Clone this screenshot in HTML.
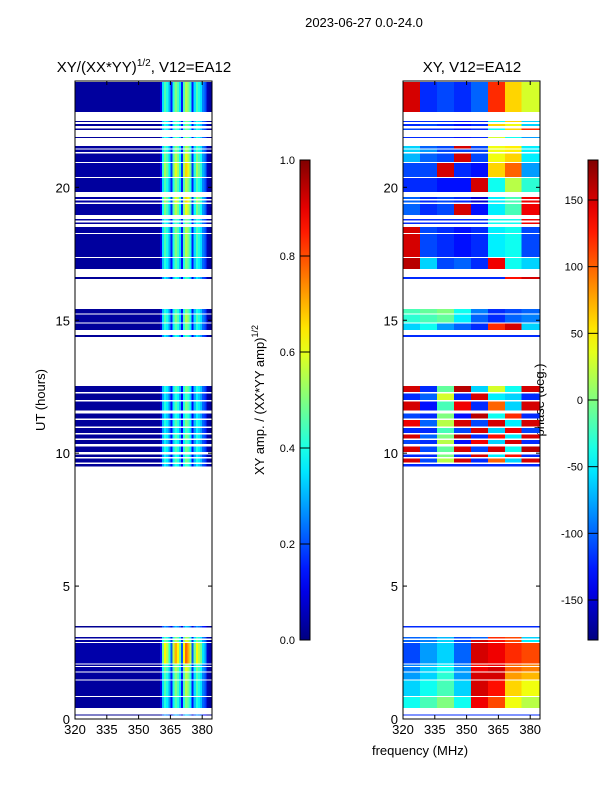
<!DOCTYPE html>
<html><head><meta charset="utf-8"><style>
body{margin:0;background:#fff;width:600px;height:800px;overflow:hidden;font-family:"Liberation Sans",sans-serif}
svg text{font-family:"Liberation Sans",sans-serif}
</style></head><body>
<svg id="fig" width="600" height="800" xmlns="http://www.w3.org/2000/svg">
<text x="364" y="27" font-size="13" text-anchor="middle">2023-06-27 0.0-24.0</text>
<text x="144" y="72" font-size="15" text-anchor="middle">XY/(XX*YY)<tspan font-size="10" dy="-6">1/2</tspan><tspan dy="6">, V12=EA12</tspan></text>
<text x="472" y="72" font-size="15" text-anchor="middle">XY, V12=EA12</text>
<text x="420" y="755" font-size="13" text-anchor="middle">frequency (MHz)</text>
<text transform="translate(45,400) rotate(-90)" font-size="13" text-anchor="middle">UT (hours)</text>
<text transform="translate(264,400) rotate(-90)" font-size="13" text-anchor="middle">XY amp. / (XX*YY amp)<tspan font-size="9" dy="-6">1/2</tspan></text>
<text transform="translate(544,400) rotate(-90)" font-size="13" text-anchor="middle">phase (deg.)</text>
<g id="p1"></g>
<g id="p2"></g>
<g id="ax"></g>
</svg>
<script>
// frequency bins (MHz, 1-MHz wide)
const ampProfile = [0.03,0.03,0.03,0.03,0.03,0.03,0.03,0.03,0.03,0.03,0.03,0.03,0.03,0.03,0.03,0.03,0.03,0.03,0.03,0.03,
0.03,0.03,0.03,0.03,0.03,0.03,0.03,0.03,0.03,0.03,0.03,0.03,0.03,0.03,0.03,0.03,0.03,0.03,0.03,0.03,
0.1,0.35,0.45,0.4,0.3,0.15,0.4,0.5,0.45,0.35,0.15,0.45,0.55,0.5,0.4,0.15,0.35,0.45,0.4,0.35,0.25,0.2,0.05,0.03,0.03];
const ampFreqStart = 320;
// time segments (UT hours)
const segStart = [22.84,22.45,22.30,22.15,21.86,21.46,21.32,20.96,20.39,19.82,19.56,19.43,18.95,18.75,18.62,18.29,17.38,16.93,16.55,15.25,14.91,14.63,14.37,
12.30,12.00,11.60,11.30,11.00,10.75,10.55,10.35,10.05,9.85,9.65,9.50,3.45,3.02,2.90,2.09,1.99,1.78,1.49,0.86,0.42,0.13];
const segEnd = [23.96,22.50,22.38,22.22,21.90,21.56,21.42,21.28,20.92,20.35,19.64,19.50,19.38,18.80,18.68,18.50,18.25,17.35,16.63,15.42,15.21,14.87,14.45,
12.53,12.25,11.95,11.50,11.25,10.95,10.70,10.50,10.25,9.95,9.80,9.60,3.50,3.08,2.98,2.86,2.05,1.95,1.74,1.45,0.82,0.17];
const segGain = [1.0,0.9,0.9,0.9,0.9,1.0,1.0,1.1,1.2,1.0,1.2,1.2,1.1,0.9,0.9,1.0,1.0,0.9,0.8,0.9,1.0,0.9,0.8,
0.9,0.8,0.9,0.8,0.9,0.8,0.9,0.8,0.9,0.8,0.9,0.8,0.6,1.0,1.1,1.4,1.0,1.1,1.0,1.0,0.9,0.6];
// phase (deg) per segment in 8-MHz bins 320..384
const phaseRows = [
[150,-120,-110,-120,-100,120,60,30],[-120,-120,-120,-130,-120,-40,60,-60],[-120,-110,-120,-130,-120,60,40,-60],[-110,-120,-120,-130,-120,-40,60,120],
[-120,-120,-120,-130,-120,30,-40,-80],[-60,-100,-110,150,-110,40,50,-50],[-60,-80,-110,-110,-110,40,50,-50],[-70,-100,-110,150,-110,40,60,-50],
[-110,-110,150,-120,-130,60,100,-80],[-120,-120,-130,-130,150,-40,20,-30],[-100,-120,-110,-120,-150,-50,-20,140],[-100,-120,-110,-120,-150,-50,-20,140],
[-100,-120,-110,150,-130,-50,-20,140],[-120,-120,-120,-120,-120,-40,-40,140],[-120,-120,-120,-120,-120,-40,-40,140],[150,-110,-120,-130,-120,-50,-40,-110],
[150,-110,-120,-130,-120,-50,-40,-110],[160,-60,-110,-100,-120,140,-40,-60],[-120,-120,-120,-120,-120,-120,130,150],[-20,-10,0,-40,-90,-120,-110,-100],
[-30,-20,-10,-50,-100,-120,-100,-90],[-60,-40,-80,-100,-120,120,150,-60],[-120,-120,-120,-120,-120,-120,-120,-120],
[150,-120,-10,160,-60,30,-40,150],[-120,-100,30,-120,150,-50,-60,-120],[150,-130,-20,140,-120,100,-60,150],[-110,-120,0,-130,160,-40,120,-120],
[140,-100,20,150,-110,150,-50,150],[-120,-120,-20,-110,150,-60,140,-110],[150,-100,0,160,-120,130,-50,150],[-110,-120,20,-130,140,-60,150,-120],
[150,-110,-10,150,-110,150,-40,160],[-120,-120,0,-120,150,-50,130,-120],[150,-110,20,150,-120,100,-60,150],[-120,-120,-120,-120,-120,-120,-120,-120],
[-120,-120,-120,-120,-120,-120,-120,-120],[-100,-90,-70,-110,-100,120,110,-60],[-100,-90,-60,-110,150,130,110,-50],[-110,-80,-60,-100,150,140,120,110],
[-90,-70,-50,-90,130,140,100,90],[-90,-60,-40,-80,140,150,100,90],[-80,-60,-30,-80,150,150,80,70],[-60,-40,-20,-60,150,130,60,40],
[-40,-20,0,-40,140,110,40,20],[-120,-120,-120,-120,-120,-120,-120,-120]];
const phaseBinWidth = 8;
const xTicks = [320,335,350,365,380];
const yTicks = [0,5,10,15,20];
const ampTicks = [0.0,0.2,0.4,0.6,0.8,1.0];
const phaseTicks = [-150,-100,-50,0,50,100,150];

const NS="http://www.w3.org/2000/svg";
const Y0=719,Y1=81, FMIN=320, PXPM=2.12, AXW=137;
const yOf=h=>Y0-(h/24)*(Y0-Y1);
function jet(v){v=Math.max(0,Math.min(1,v));
 const r=Math.max(0,Math.min(1,1.5-Math.abs(4*v-3))),g=Math.max(0,Math.min(1,1.5-Math.abs(4*v-2))),b=Math.max(0,Math.min(1,1.5-Math.abs(4*v-1)));
 return `rgb(${Math.round(r*255)},${Math.round(g*255)},${Math.round(b*255)})`;}
function mk(tag,attrs,parent){const e=document.createElementNS(NS,tag);for(const k in attrs)e.setAttribute(k,attrs[k]);parent.appendChild(e);return e;}
const p1=document.getElementById('p1'),p2=document.getElementById('p2'),ax=document.getElementById('ax');
function xOf(left,f){return Math.min(left+AXW,left+(f-FMIN)*PXPM);}
for(let s=0;s<segStart.length;s++){
 const ya=yOf(segEnd[s]),yb=yOf(segStart[s]);
 for(let i=0;i<ampProfile.length;i++){
  const f=ampFreqStart+i,xa=xOf(75,f),xb=xOf(75,f+1);if(xb<=xa)continue;
  const r=mk('rect',{x:xa,y:ya,width:xb-xa+0.3,height:yb-ya,fill:jet(ampProfile[i]*segGain[s]),'shape-rendering':'crispEdges'},p1);
  
  
 }
 const row=phaseRows[s];
 for(let j=0;j<row.length;j++){
  const f=FMIN+j*phaseBinWidth,xa=xOf(403,f),xb=(j==row.length-1)?403+AXW:xOf(403,f+phaseBinWidth);
  const r=mk('rect',{x:xa,y:ya,width:xb-xa+0.3,height:yb-ya,fill:jet((row[j]+180)/360),'shape-rendering':'crispEdges'},p2);
  
  
 }
}
[75,403].forEach((L,pi)=>{
 const fr=mk('rect',{x:L,y:Y1,width:AXW,height:Y0-Y1,fill:'none',stroke:'#000','stroke-width':1},ax);
 
 
 xTicks.forEach(t=>{const x=xOf(L,t);
  mk('line',{x1:x,x2:x,y1:Y0,y2:Y0-4,stroke:'#000'},ax);mk('line',{x1:x,x2:x,y1:Y1,y2:Y1+4,stroke:'#000'},ax);
  const tx=mk('text',{x:x,y:Y0+15,'font-size':13,'text-anchor':'middle'},ax);tx.textContent=t;
  
  });
 yTicks.forEach(t=>{const y=yOf(t);
  mk('line',{x1:L,x2:L+4,y1:y,y2:y,stroke:'#000'},ax);mk('line',{x1:L+AXW,x2:L+AXW-4,y1:y,y2:y,stroke:'#000'},ax);
  const tx=mk('text',{x:L-5,y:y+5,'font-size':13,'text-anchor':'end'},ax);tx.textContent=t;
  
  });
});
function cbar(x,id,ticks,vmin,vmax,name){
 const d=mk('defs',{},ax);const g=mk('linearGradient',{id:id,x1:0,y1:1,x2:0,y2:0},d);
 for(let k=0;k<=20;k++)mk('stop',{offset:k/20,'stop-color':jet(k/20)},g);
 const r=mk('rect',{x:x,y:160,width:10,height:480,fill:`url(#${id})`,stroke:'#000','stroke-width':1},ax);
 
 
 ticks.forEach(t=>{const y=640-(t-vmin)/(vmax-vmin)*480;
  mk('line',{x1:x,x2:x+10,y1:y,y2:y,stroke:'#000'},ax);
  const tx=mk('text',{x:x-5,y:y+4,'font-size':11,'text-anchor':'end'},ax);tx.textContent=(vmax==1?t.toFixed(1):t);
  
  });
}
cbar(300,'g1',ampTicks,0,1,'amp-colorbar');
cbar(588,'g2',phaseTicks,-180,180,'phase-colorbar');
</script>
</body></html>
